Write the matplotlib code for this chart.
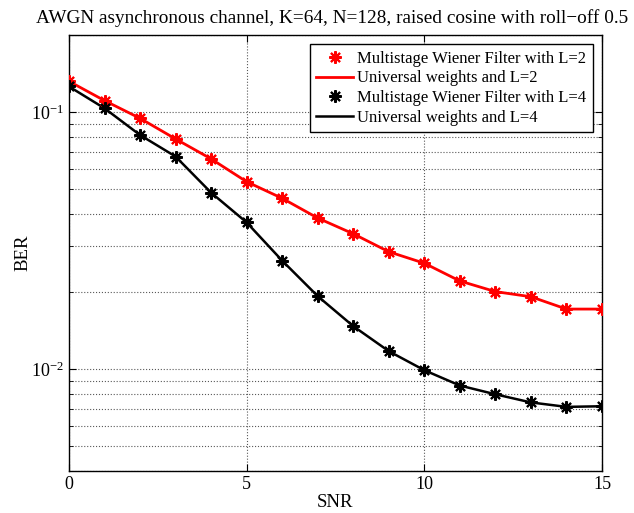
import numpy as np
import matplotlib.pyplot as plt
from matplotlib.ticker import LogLocator, NullFormatter

snr = np.arange(0, 16)
ber_l2 = [0.132, 0.111, 0.0947, 0.0787, 0.0658, 0.0536, 0.0462, 0.0387,
          0.0336, 0.0286, 0.0258, 0.0220, 0.0200, 0.0191, 0.0171, 0.0171]
ber_l4 = [0.126, 0.1036, 0.0815, 0.0672, 0.0486, 0.0372, 0.0264, 0.0192,
          0.01467, 0.01172, 0.00988, 0.00861, 0.00796, 0.0074, 0.00711, 0.00715]

plt.rcParams['font.family'] = ['Liberation Serif', 'DejaVu Serif']
plt.rcParams['mathtext.fontset'] = 'stix'

fig = plt.figure(figsize=(6.34, 5.13), dpi=100)
ax = fig.add_axes([0.1088, 0.0819, 0.8407, 0.8499])

star = (8, 2, 0)
ax.plot(snr, ber_l2, ls='none', marker=star, ms=9, mew=1.5, color='red',
        label='Multistage Wiener Filter with L=2', zorder=3)
ax.plot(snr, ber_l2, color='red', lw=2, label='Universal weights and L=2', zorder=2)
ax.plot(snr, ber_l4, ls='none', marker=star, ms=9, mew=1.5, color='black',
        label='Multistage Wiener Filter with L=4', zorder=3)
ax.plot(snr, ber_l4, color='black', lw=1.8, label='Universal weights and L=4', zorder=2)

ax.set_yscale('log')
ax.set_xlim(0, 15)
ax.set_ylim(0.004, 0.2)
ax.set_xticks([0, 5, 10, 15])
ax.yaxis.set_major_locator(LogLocator(base=10, numticks=10))
ax.yaxis.set_minor_locator(LogLocator(base=10, subs=np.arange(2, 10), numticks=20))
ax.yaxis.set_minor_formatter(NullFormatter())

ax.grid(True, which='major', ls=':', color='0.35', lw=0.8)
ax.grid(True, which='minor', axis='y', ls=':', color='0.35', lw=0.8)

ax.tick_params(which='both', direction='in', top=True, right=True, labelsize=13)
ax.tick_params(which='major', length=5)
ax.tick_params(which='minor', length=3)
for s in ax.spines.values():
    s.set_linewidth(1.0)

ax.set_xlabel('SNR', fontsize=13.5, labelpad=1)
ax.set_ylabel('BER', fontsize=13.5, labelpad=0)
fig.text(0.5235, 0.965,
         'AWGN asynchronous channel, K=64, N=128, raised cosine with roll\u2212off 0.5',
         fontsize=13.9, ha='center', va='center')

leg = ax.legend(loc='upper right', fontsize=12, frameon=True, fancybox=False,
                edgecolor='black', framealpha=1, borderpad=0.4, labelspacing=0.22,
                handlelength=2.2, handletextpad=0.25, borderaxespad=0.55)
leg.get_frame().set_linewidth(1.0)

fig.savefig('out.png', dpi=100)
